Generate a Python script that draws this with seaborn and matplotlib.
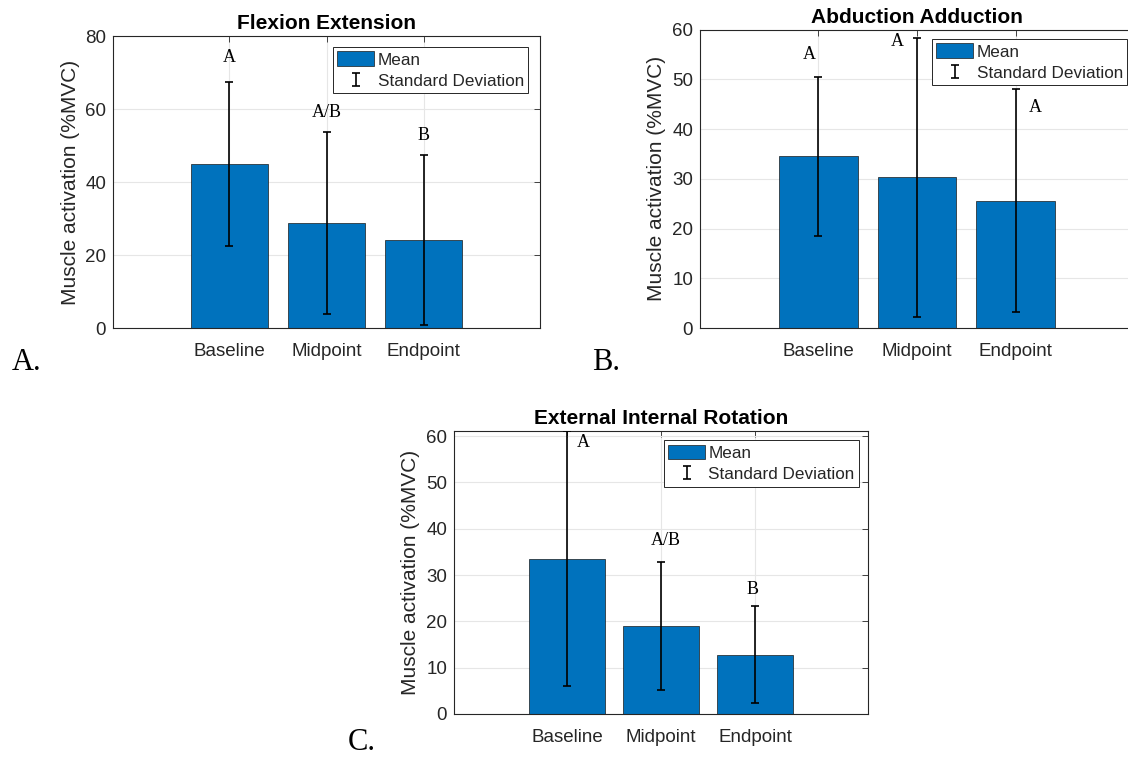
import numpy as np
import pandas as pd
import seaborn as sns
import matplotlib
matplotlib.use("Agg")
import matplotlib.pyplot as plt
from matplotlib.container import ErrorbarContainer
from matplotlib.legend_handler import HandlerErrorbar

# ---- data -------------------------------------------------------------
phases = ["Baseline", "Midpoint", "Endpoint"]

flex_mean = [45.0, 28.8, 24.1]
flex_sd = [22.4, 24.9, 23.3]
flex_letters = ["A", "A/B", "B"]
flex_letter_y = [74.0, 59.0, 52.7]
flex_letter_dx = [0.0, 0.0, 0.0]

abd_mean = [34.5, 30.3, 25.6]
abd_sd = [16.0, 28.0, 22.4]
abd_letters = ["A", "A", "A"]
abd_letter_y = [55.0, 57.5, 44.4]
abd_letter_dx = [-0.09, -0.2, 0.2]

rot_mean = [33.5, 19.0, 12.8]
rot_sd = [27.5, 13.8, 10.5]
rot_letters = ["A", "A/B", "B"]
rot_letter_y = [58.6, 37.4, 26.9]
rot_letter_dx = [0.17, 0.05, -0.03]

titles = ["Flexion Extension", "Abduction Adduction", "External Internal Rotation"]
panel_tags = ["A.", "B.", "C."]
y_label = "Muscle activation (%MVC)"

# ---- style ------------------------------------------------------------
sns.set_theme(style="whitegrid")
plt.rcParams["font.family"] = ["Liberation Sans", "DejaVu Sans"]

BAR_BLUE = "#0072BD"
INK = "#262626"

W, H = 1128, 757
fig = plt.figure(figsize=(W / 100, H / 100), dpi=100)


def rect(left, right, top, bottom):
    return [left / W, 1 - bottom / H, (right - left) / W, (bottom - top) / H]


panels = [
    dict(mean=flex_mean, sd=flex_sd, letters=flex_letters, ly=flex_letter_y,
         ldx=flex_letter_dx, rect=rect(113, 540, 36, 328), ylim=(0, 80),
         yticks=np.arange(0, 81, 20), anchor=(0.972, 0.962),
         tag_xy=(12, 370)),
    dict(mean=abd_mean, sd=abd_sd, letters=abd_letters, ly=abd_letter_y,
         ldx=abd_letter_dx, rect=rect(700, 1134, 29.5, 328), ylim=(0, 60),
         yticks=np.arange(0, 61, 10), anchor=(0.984, 0.968),
         tag_xy=(592, 370)),
    dict(mean=rot_mean, sd=rot_sd, letters=rot_letters, ly=rot_letter_y,
         ldx=rot_letter_dx, rect=rect(454, 868, 431.4, 714), ylim=(0, 61),
         yticks=np.arange(0, 61, 10), anchor=(0.978, 0.968),
         tag_xy=(348, 750)),
]

for p, title, tag in zip(panels, titles, panel_tags):
    ax = fig.add_axes(p["rect"])
    df = pd.DataFrame({"phase": phases, "mean": p["mean"]})
    sns.barplot(data=df, x="phase", y="mean", color=BAR_BLUE, saturation=1,
                width=0.8, edgecolor="#1a1a1a", linewidth=0.5, ax=ax)
    bars = ax.containers[0]
    xpos = np.arange(len(phases))
    eb = ax.errorbar(xpos, p["mean"], yerr=p["sd"], fmt="none", ecolor="black",
                     elinewidth=1.2, capsize=3, capthick=1.2, zorder=3)

    for xi, dx, yv, txt in zip(xpos, p["ldx"], p["ly"], p["letters"]):
        ax.text(xi + dx, yv, txt, ha="center", va="center", fontsize=13,
                family=["Liberation Serif", "DejaVu Serif"], color="black")

    ax.set_xlim(-1.2, 3.2)
    ax.set_ylim(*p["ylim"])
    ax.set_yticks(p["yticks"])
    ax.set_xlabel("")
    ax.set_ylabel(y_label, fontsize=15, color=INK, labelpad=4)
    ax.set_title(title, fontsize=15, fontweight="bold", color="black", pad=5)

    ax.set_axisbelow(True)
    ax.grid(True, axis="both", color="#e6e6e6", linewidth=0.8)
    for s in ax.spines.values():
        s.set_visible(True)
        s.set_color(INK)
        s.set_linewidth(0.8)
    ax.tick_params(axis="both", direction="in", length=4, width=0.6,
                   colors=INK, labelsize=13.5, pad=5, top=True, right=True)
    ax.tick_params(axis="x", pad=11)

    leg = ax.legend([bars, eb], ["Mean", "Standard Deviation"],
                    loc="upper right", bbox_to_anchor=p["anchor"],
                    borderaxespad=0, fontsize=12.3, handlelength=2.15,
                    handleheight=0.95, handletextpad=0.2, borderpad=0.25,
                    labelspacing=0.3, fancybox=False, framealpha=1,
                    edgecolor=INK,
                    handler_map={ErrorbarContainer: HandlerErrorbar(xerr_size=0.38)})
    leg.get_frame().set_linewidth(0.7)
    for t in leg.get_texts():
        t.set_color(INK)

    fig.text(p["tag_xy"][0] / W, 1 - p["tag_xy"][1] / H, tag, fontsize=22,
             family=["Liberation Serif", "DejaVu Serif"], color="black",
             ha="left", va="baseline")

fig.savefig("out.png", dpi=100, facecolor="white")
